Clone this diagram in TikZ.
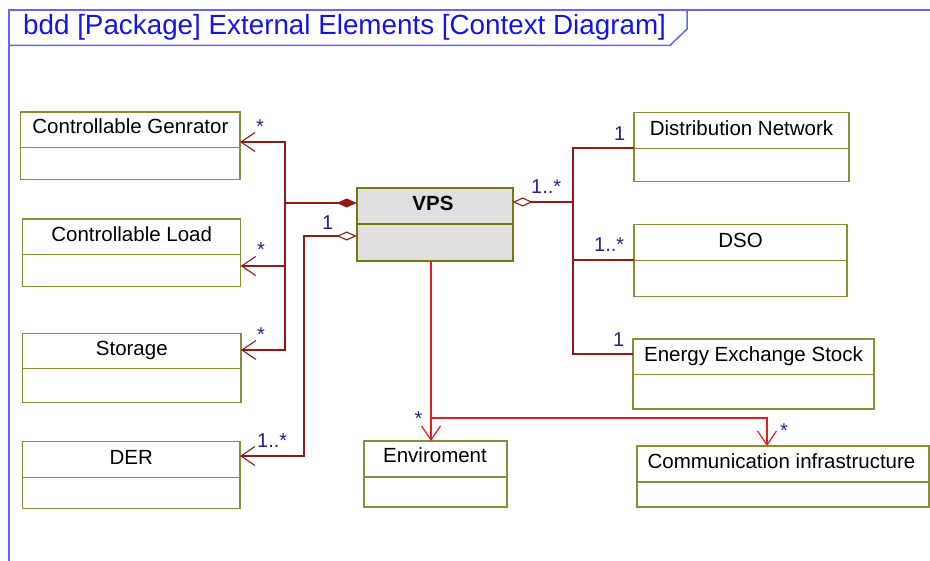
\documentclass[tikz,border=0pt]{standalone}
\usepackage{fontspec}
\setmainfont{Liberation Sans}
\usetikzlibrary{arrows.meta}
\definecolor{olivebox}{RGB}{140,140,55}
\definecolor{olivedark}{RGB}{120,120,10}
\definecolor{vpsfill}{RGB}{224,224,224}
\definecolor{linered}{RGB}{145,25,25}
\definecolor{brightred}{RGB}{228,30,30}
\definecolor{multblue}{RGB}{35,35,145}
\definecolor{framebl}{RGB}{100,100,250}
\definecolor{titlebl}{RGB}{20,20,230}
\tikzset{
  clsbox/.style={draw=olivebox, line width=1.5pt, fill=white, inner sep=0pt, outer sep=0pt, anchor=north west},
  vpsbox/.style={draw=olivedark, line width=2.2pt, fill=vpsfill, inner sep=0pt, outer sep=0pt, anchor=north west},
  divl/.style={draw=olivebox, line width=1.5pt},
  vpsdiv/.style={draw=olivedark, line width=2.2pt},
  clsname/.style={anchor=base, font=\fontsize{20.5}{24}\selectfont, text=black, inner sep=0pt},
  mult/.style={anchor=base west, font=\fontsize{20}{24}\selectfont, text=multblue, inner sep=0pt},
  assoc/.style={draw=linered, line width=1.1pt},
  redline/.style={draw=brightred, line width=1.2pt},
  navarrow/.style={-{Straight Barb[length=14pt,width=19pt]}},
  framel/.style={draw=framebl, line width=1.5pt},
}
\begin{document}
\begin{tikzpicture}[x=1pt,y=-1pt]
\useasboundingbox (0,0) rectangle (930,561);
% frame
\draw[framel] (9,561) -- (9,10) -- (930,10);
\draw[framel] (687,10) -- (687,29) -- (670,45.5) -- (9,45.5);
\node[anchor=base west, inner sep=0pt, font=\fontsize{27.8}{30}\selectfont, text=titlebl] (title) at (23,35) {bdd [Package] External Elements [Context Diagram]};

% left classes
\node[clsbox, minimum width=219.3pt, minimum height=67.3pt] (cg) at (20.7,112) {};
\draw[divl] (cg.west|-0,147.3) -- (cg.east|-0,147.3);
\node[clsname] (cgt) at (130.4,134) {Controllable Genrator};

\node[clsbox, minimum width=218pt, minimum height=67.7pt] (cl) at (22.7,219) {};
\draw[divl] (cl.west|-0,254.7) -- (cl.east|-0,254.7);
\node[clsname] (clt) at (131.7,241.7) {Controllable Load};

\node[clsbox, minimum width=218.3pt, minimum height=69pt] (st) at (22.7,333.3) {};
\draw[divl] (st.west|-0,368.7) -- (st.east|-0,368.7);
\node[clsname] (stt) at (131.8,355.5) {Storage};

\node[clsbox, minimum width=217.3pt, minimum height=67pt] (der) at (22.7,441.3) {};
\draw[divl] (der.west|-0,477.3) -- (der.east|-0,477.3);
\node[clsname] (dert) at (131.3,464.5) {DER};

% VPS
\node[vpsbox, minimum width=156pt, minimum height=73.3pt] (vps) at (356.7,188) {};
\draw[vpsdiv] (vps.west|-0,224.3) -- (vps.east|-0,224.3);
\node[clsname, font=\fontsize{20.5}{24}\selectfont\bfseries] (vpst) at (433,210.5) {VPS};

% right classes
\node[clsbox, minimum width=215pt, minimum height=69pt] (dn) at (634,112.7) {};
\draw[divl] (dn.west|-0,148.5) -- (dn.east|-0,148.5);
\node[clsname] (dnt) at (741.5,135.7) {Distribution Network};

\node[clsbox, minimum width=213pt, minimum height=72.4pt] (dso) at (634,224.3) {};
\draw[divl] (dso.west|-0,260.3) -- (dso.east|-0,260.3);
\node[clsname] (dsot) at (740.5,247.5) {DSO};

\node[clsbox, minimum width=241pt, minimum height=70pt] (ees) at (633,339) {};
\draw[divl] (ees.west|-0,374.7) -- (ees.east|-0,374.7);
\node[clsname] (eest) at (753.5,362) {Energy Exchange Stock};

% bottom classes
\node[clsbox, minimum width=143pt, minimum height=66pt] (env) at (364,441) {};
\draw[divl] (env.west|-0,477) -- (env.east|-0,477);
\node[clsname] (envt) at (435,462.7) {Enviroment};

\node[clsbox, minimum width=292pt, minimum height=61pt] (ci) at (637,446) {};
\draw[divl] (ci.west|-0,482) -- (ci.east|-0,482);
\node[clsname] (cit) at (781.5,469) {Communication infrastructure};

% left composition connectors
\draw[assoc, {Diamond[length=20pt,width=9pt,fill=linered]}-{Straight Barb[length=14pt,width=19pt]}]
  (vps.west|-0,203) -| (285,142) -- (cg.east|-0,142);
\draw[assoc, navarrow] (285,203) |- (cl.east|-0,266);
\draw[assoc, navarrow] (285,266) |- (st.east|-0,350);
% DER aggregation
\draw[assoc, {Diamond[open,length=20pt,width=9pt,fill=white]}-{Straight Barb[length=14pt,width=19pt]}]
  (vps.west|-0,236) -| (304,456) -- (der.east|-0,456);

% right aggregation
\draw[assoc, {Diamond[open,length=20pt,width=9pt,fill=white]}-]
  (vps.east|-0,202) -| (573,148) -- (dn.west|-0,148);
\draw[assoc] (573,202) |- (dso.west|-0,260);
\draw[assoc] (573,260) |- (ees.west|-0,354);

% bottom associations
\draw[redline, navarrow] (vps.south-|431,0) -- (env.north-|431,0);
\draw[redline, navarrow] (431,418) -| (ci.north-|767,0);

% multiplicities
\node[mult] (m1) at (256,134) {*};
\node[mult] (m2) at (257,257) {*};
\node[mult] (m3) at (257,342) {*};
\node[mult] (m4) at (257,448) {1..*};
\node[mult] (m5) at (322,230) {1};
\node[mult] (m6) at (531,194) {1..*};
\node[mult] (m7) at (614,140.7) {1};
\node[mult] (m8) at (594,251.7) {1..*};
\node[mult] (m9) at (613,346.7) {1};
\node[mult] (m10) at (414.5,426) {*};
\node[mult] (m11) at (780,438) {*};
\end{tikzpicture}
\end{document}
